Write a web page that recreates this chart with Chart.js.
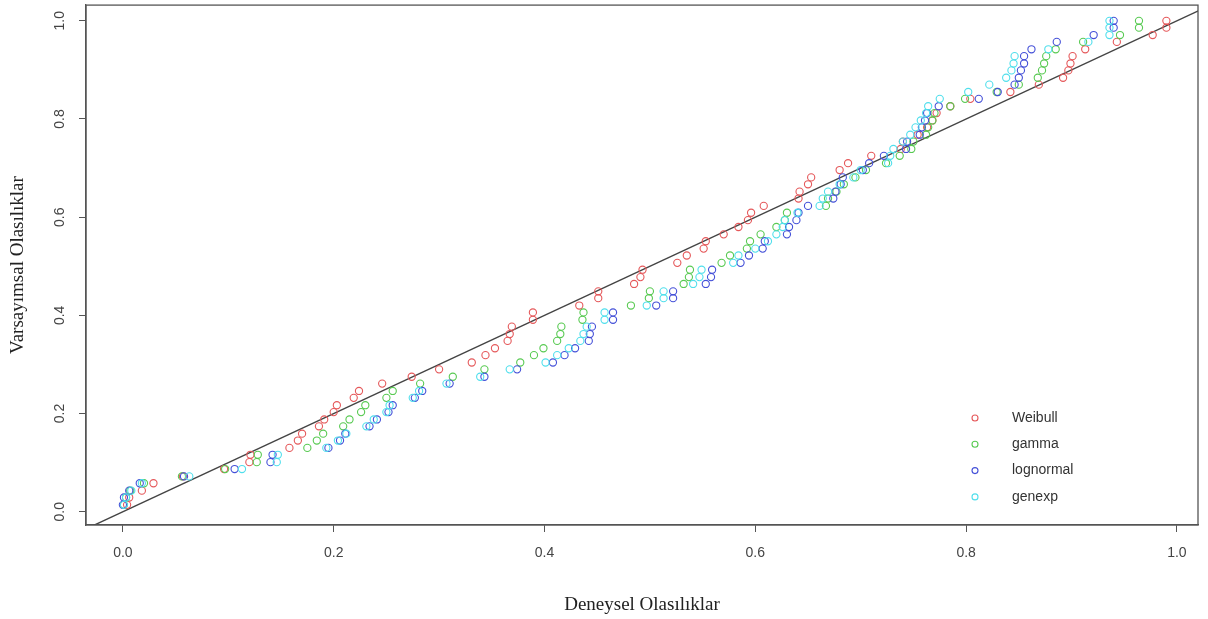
<!DOCTYPE html>
<html>
<head>
<meta charset="utf-8">
<script src="https://cdn.jsdelivr.net/npm/chart.js@4.4.1/dist/chart.umd.min.js"></script>
<style>
  html, body { margin: 0; padding: 0; background: #fff; }
  #wrap { width: 1208px; height: 619px; }
</style>
</head>
<body>
<div id="wrap"><canvas id="ppChart" width="1208" height="619"></canvas></div>
<script>
// empirical probability levels (same for every fitted distribution)
const probLevels = [
  0.014, 0.029, 0.043, 0.058, 0.072, 0.087, 0.101, 0.116, 0.130, 0.145,
  0.159, 0.174, 0.188, 0.203, 0.217, 0.232, 0.246, 0.261, 0.275, 0.290,
  0.304, 0.319, 0.333, 0.348, 0.362, 0.377, 0.391, 0.406, 0.420, 0.435,
  0.449, 0.464, 0.478, 0.493, 0.507, 0.522, 0.536, 0.551, 0.565, 0.580,
  0.594, 0.609, 0.623, 0.638, 0.652, 0.667, 0.681, 0.696, 0.710, 0.725,
  0.739, 0.754, 0.768, 0.783, 0.797, 0.812, 0.826, 0.841, 0.855, 0.870,
  0.884, 0.899, 0.913, 0.928, 0.942, 0.957, 0.971, 0.986, 1.000
];

// fitted cdf values at each level
const weibullP = [
  0.004, 0.006, 0.018, 0.029, 0.057, 0.096, 0.120, 0.121, 0.158, 0.166,
  0.170, 0.186, 0.191, 0.200, 0.203, 0.219, 0.224, 0.246, 0.274, 0.300,
  0.331, 0.344, 0.353, 0.365, 0.367, 0.369, 0.389, 0.389, 0.433, 0.451,
  0.451, 0.485, 0.491, 0.493, 0.526, 0.535, 0.551, 0.553, 0.570, 0.584,
  0.593, 0.596, 0.608, 0.641, 0.642, 0.650, 0.653, 0.680, 0.688, 0.710,
  0.738, 0.740, 0.754, 0.763, 0.768, 0.772, 0.785, 0.804, 0.842, 0.869,
  0.892, 0.897, 0.899, 0.901, 0.913, 0.943, 0.977, 0.990, 0.990
];
const gammaP = [
  0.001, 0.003, 0.007, 0.020, 0.056, 0.097, 0.127, 0.128, 0.175, 0.184,
  0.190, 0.209, 0.215, 0.226, 0.230, 0.250, 0.256, 0.282, 0.313, 0.343,
  0.377, 0.390, 0.399, 0.412, 0.415, 0.416, 0.436, 0.437, 0.482, 0.499,
  0.500, 0.532, 0.537, 0.538, 0.568, 0.576, 0.592, 0.595, 0.605, 0.620,
  0.628, 0.630, 0.667, 0.669, 0.677, 0.684, 0.695, 0.705, 0.724, 0.737,
  0.748, 0.750, 0.762, 0.764, 0.768, 0.770, 0.785, 0.799, 0.829, 0.850,
  0.868, 0.872, 0.874, 0.876, 0.885, 0.911, 0.946, 0.964, 0.964
];
const lognormalP = [
  0.000, 0.001, 0.006, 0.016, 0.058, 0.106, 0.140, 0.142, 0.195, 0.206,
  0.211, 0.234, 0.241, 0.252, 0.256, 0.277, 0.284, 0.310, 0.343, 0.374,
  0.408, 0.419, 0.429, 0.442, 0.443, 0.445, 0.465, 0.465, 0.506, 0.522,
  0.522, 0.553, 0.558, 0.559, 0.586, 0.594, 0.607, 0.609, 0.630, 0.632,
  0.639, 0.641, 0.650, 0.674, 0.676, 0.681, 0.683, 0.702, 0.708, 0.722,
  0.743, 0.744, 0.756, 0.758, 0.761, 0.763, 0.774, 0.812, 0.830, 0.846,
  0.850, 0.852, 0.855, 0.855, 0.862, 0.886, 0.921, 0.940, 0.940
];
const genexpP = [
  0.001, 0.003, 0.008, 0.018, 0.063, 0.113, 0.146, 0.147, 0.193, 0.204,
  0.212, 0.231, 0.238, 0.250, 0.253, 0.275, 0.281, 0.307, 0.339, 0.367,
  0.401, 0.412, 0.423, 0.434, 0.437, 0.440, 0.457, 0.457, 0.497, 0.513,
  0.513, 0.541, 0.547, 0.549, 0.579, 0.584, 0.600, 0.612, 0.620, 0.626,
  0.628, 0.640, 0.661, 0.664, 0.669, 0.680, 0.693, 0.700, 0.726, 0.728,
  0.731, 0.740, 0.747, 0.752, 0.757, 0.762, 0.764, 0.775, 0.802, 0.822,
  0.838, 0.843, 0.845, 0.846, 0.878, 0.916, 0.936, 0.936, 0.936
];

const seriesNames = ['Weibull', 'gamma', 'lognormal', 'genexp'];
const seriesValues = [weibullP, gammaP, lognormalP, genexpP];
const seriesColors = ['#E5585A', '#58CA52', '#4450D8', '#50DFEC'];

const tickValues = [0, 0.2, 0.4, 0.6, 0.8, 1.0];
const xTitle = 'Deneysel Olasılıklar';
const yTitle = 'Varsayımsal Olasılıklar';

const axisColor = '#555';
const narrowFont = "'Liberation Sans Narrow', 'Liberation Sans', Arial, sans-serif";
const serifFont = "'Liberation Serif', 'Times New Roman', serif";

// one scatter dataset per distribution
const pointSets = seriesNames.map((name, i) => ({
  type: 'scatter',
  label: name,
  data: probLevels.map((p, k) => ({ x: seriesValues[i][k], y: p })),
  borderColor: seriesColors[i],
  backgroundColor: 'rgba(0,0,0,0)',
  pointRadius: 3.6,
  pointBorderWidth: 1.1,
  pointStyle: 'circle',
  order: 4 - i
}));

// reference line y = x
const diagonal = {
  type: 'line',
  label: 'diag',
  data: [{ x: -0.2, y: -0.2 }, { x: 1.2, y: 1.2 }],
  borderColor: '#444',
  borderWidth: 1.4,
  pointRadius: 0,
  order: 10
};

// box, rotated y labels and the legend inside the plot
const framePlugin = {
  id: 'frameAndLegend',
  afterDraw(chart) {
    const { ctx, chartArea: a, scales } = chart;
    ctx.save();
    ctx.strokeStyle = axisColor;
    ctx.lineWidth = 1.3;
    ctx.strokeRect(a.left, a.top, a.right - a.left, a.bottom - a.top);

    ctx.fillStyle = '#444';
    ctx.font = '14px ' + narrowFont;
    ctx.textAlign = 'center';
    ctx.textBaseline = 'middle';
    tickValues.forEach(v => {
      const py = scales.y.getPixelForValue(v);
      ctx.save();
      ctx.translate(a.left - 26, py);
      ctx.rotate(-Math.PI / 2);
      ctx.fillText(v.toFixed(1), 0, 0);
      ctx.restore();
    });

    const symX = a.right - 223;
    const textX = a.right - 186;
    ctx.textAlign = 'left';
    ctx.font = '14px ' + narrowFont;
    seriesNames.forEach((name, i) => {
      const ry = a.bottom - 107 + i * 26.3;
      ctx.beginPath();
      ctx.strokeStyle = seriesColors[i];
      ctx.lineWidth = 1.1;
      ctx.arc(symX, ry, 3, 0, Math.PI * 2);
      ctx.stroke();
      ctx.fillStyle = '#333';
      ctx.fillText(name, textX, ry);
    });
    ctx.restore();
  }
};

new Chart(document.getElementById('ppChart'), {
  type: 'scatter',
  data: { datasets: [...pointSets, diagonal] },
  options: {
    responsive: false,
    animation: false,
    devicePixelRatio: 1,
    layout: { padding: { top: 5, right: 10, left: 0, bottom: 0 } },
    plugins: { legend: { display: false }, tooltip: { enabled: false } },
    scales: {
      x: {
        type: 'linear',
        position: 'bottom',
        min: -0.035,
        max: 1.02,
        afterBuildTicks: s => { s.ticks = tickValues.map(v => ({ value: v })); },
        afterFit: s => { s.height = 94; },
        grid: { display: true, drawOnChartArea: false, drawTicks: true, tickLength: 7, color: axisColor },
        border: { display: true, color: axisColor, width: 1.3 },
        ticks: {
          padding: 13,
          color: '#444',
          font: { family: narrowFont, size: 14 },
          callback: v => v.toFixed(1),
          maxRotation: 0,
          autoSkip: false
        },
        title: {
          display: true,
          text: xTitle,
          color: '#222',
          font: { family: serifFont, size: 19 },
          padding: { top: 0, bottom: 3 }
        }
      },
      y: {
        type: 'linear',
        position: 'left',
        min: -0.027,
        max: 1.032,
        afterBuildTicks: s => { s.ticks = tickValues.map(v => ({ value: v })); },
        afterFit: s => { s.width = 86; },
        grid: { display: true, drawOnChartArea: false, drawTicks: true, tickLength: 7, color: axisColor },
        border: { display: true, color: axisColor, width: 1.3 },
        ticks: { display: false },
        title: {
          display: true,
          text: yTitle,
          color: '#222',
          font: { family: serifFont, size: 19 },
          padding: { top: 7, bottom: 0 }
        }
      }
    }
  },
  plugins: [framePlugin]
});
</script>
</body>
</html>
